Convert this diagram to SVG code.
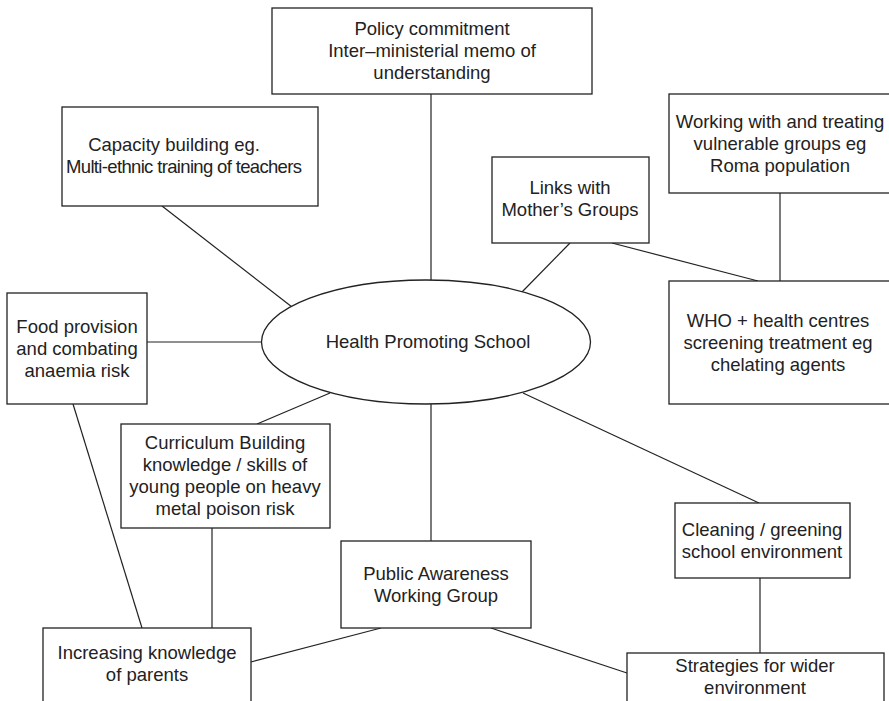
<svg xmlns="http://www.w3.org/2000/svg" width="889" height="701" viewBox="0 0 889 701">
  <style>
    .box { fill: #fff; stroke: #222; stroke-width: 1.3; }
    .link { stroke: #222; stroke-width: 1.2; fill: none; }
    text { font-family: "Liberation Sans", Arial, sans-serif; font-size: 18.5px; fill: #222; text-anchor: middle; }
  </style>
  <rect width="889" height="701" fill="#fff"/>

  <!-- connectors -->
  <g id="connectors">
    <line class="link" x1="431" y1="94" x2="431" y2="281"/>
    <line class="link" x1="162" y1="206" x2="292" y2="307"/>
    <line class="link" x1="147" y1="342" x2="262" y2="342"/>
    <line class="link" x1="570" y1="243" x2="522" y2="292"/>
    <line class="link" x1="612" y1="243" x2="758" y2="281"/>
    <line class="link" x1="780" y1="193" x2="780" y2="281"/>
    <line class="link" x1="257" y1="424" x2="330" y2="393"/>
    <line class="link" x1="523" y1="393" x2="759" y2="503"/>
    <line class="link" x1="431" y1="404" x2="431" y2="541"/>
    <line class="link" x1="73" y1="404" x2="142" y2="628"/>
    <line class="link" x1="212" y1="528" x2="212" y2="628"/>
    <line class="link" x1="251" y1="662" x2="381" y2="628"/>
    <line class="link" x1="491" y1="628" x2="627" y2="673"/>
    <line class="link" x1="760" y1="578" x2="760" y2="653"/>
  </g>

  <g id="hub">
    <ellipse class="box" cx="426" cy="342" rx="164.5" ry="62"/>
    <text x="428" y="348">Health Promoting School</text>
  </g>

  <g id="policy">
    <rect class="box" x="272" y="8" width="320" height="86"/>
    <text x="432" y="35">Policy commitment</text>
    <text x="432" y="57">Inter–ministerial memo of</text>
    <text x="432" y="79">understanding</text>
  </g>

  <g id="capacity">
    <rect class="box" x="62" y="107" width="256" height="99"/>
    <text x="174" y="151">Capacity building eg.</text>
    <text x="184" y="173" textLength="236" lengthAdjust="spacing">Multi-ethnic training of teachers</text>
  </g>

  <g id="vulnerable">
    <rect class="box" x="669" y="94" width="225" height="99"/>
    <text x="780" y="128">Working with and treating</text>
    <text x="780" y="150">vulnerable groups eg</text>
    <text x="780" y="172">Roma population</text>
  </g>

  <g id="mothers">
    <rect class="box" x="492" y="157" width="157" height="86"/>
    <text x="570" y="194">Links with</text>
    <text x="570" y="216">Mother’s Groups</text>
  </g>

  <g id="who">
    <rect class="box" x="669" y="281" width="225" height="123"/>
    <text x="778" y="327">WHO + health centres</text>
    <text x="778" y="349">screening treatment eg</text>
    <text x="778" y="371">chelating agents</text>
  </g>

  <g id="food">
    <rect class="box" x="7" y="293" width="140" height="111"/>
    <text x="77" y="333">Food provision</text>
    <text x="77" y="355">and combating</text>
    <text x="77" y="377">anaemia risk</text>
  </g>

  <g id="curriculum">
    <rect class="box" x="121" y="424" width="209" height="104"/>
    <text x="225" y="449">Curriculum Building</text>
    <text x="225" y="471">knowledge / skills of</text>
    <text x="225" y="493">young people on heavy</text>
    <text x="225" y="515">metal poison risk</text>
  </g>

  <g id="cleaning">
    <rect class="box" x="675" y="503" width="175" height="75"/>
    <text x="762" y="536">Cleaning / greening</text>
    <text x="762" y="558">school environment</text>
  </g>

  <g id="awareness">
    <rect class="box" x="341" y="541" width="190" height="87"/>
    <text x="436" y="580">Public Awareness</text>
    <text x="436" y="602">Working Group</text>
  </g>

  <g id="parents">
    <rect class="box" x="43" y="628" width="208" height="90"/>
    <text x="147" y="659">Increasing knowledge</text>
    <text x="147" y="681">of parents</text>
  </g>

  <g id="wider">
    <rect class="box" x="627" y="653" width="257" height="65"/>
    <text x="755" y="672">Strategies for wider</text>
    <text x="755" y="694">environment</text>
  </g>
</svg>
